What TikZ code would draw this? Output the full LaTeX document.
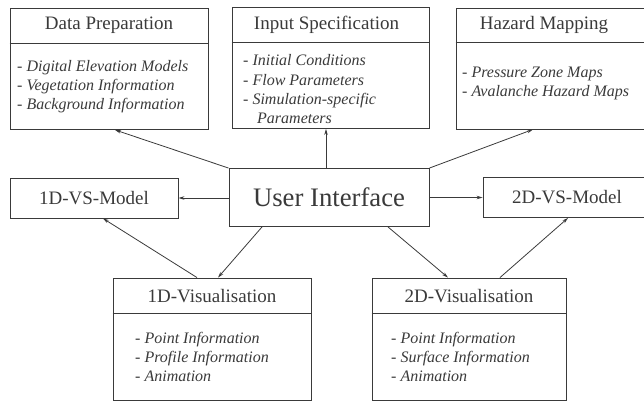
\documentclass[tikz,border=0pt]{standalone}
\usepackage{fontspec}
\setmainfont{Liberation Serif}
\usetikzlibrary{arrows.meta,positioning,calc}
\definecolor{ink}{HTML}{3A3A3A}
\begin{document}
\begin{tikzpicture}[x=1pt,y=-1pt,>={Stealth[length=6pt,width=3.5pt]},
box/.style={draw=ink,line width=0.9pt,inner sep=0pt},
big/.style={box,minimum width=198pt,minimum height=121pt},
vs/.style={box,minimum width=168pt,minimum height=40pt,font=\fontsize{19}{22}\selectfont,text=ink},
ttl/.style={font=\fontsize{19}{22}\selectfont,text=ink},
itm/.style={font=\fontsize{16}{19}\selectfont\itshape,text=ink,align=left,anchor=base west,inner sep=0pt},
con/.style={->,draw=ink,line width=0.8pt}]
\useasboundingbox (0,0) rectangle (644,401);
\node[big] (dp) at (109,69) {};
\node[big,minimum width=197pt] (is) at (330.5,68) {};
\node[big] (hm) at (555,68.5) {};
\node[box,minimum width=200pt,minimum height=58pt,font=\fontsize{26.7}{32}\selectfont,text=ink] (ui) at (329,197.5) {User Interface};
\node[vs] (m1) at (94,198) {1D-VS-Model};
\node[vs] (m2) at (567,197.5) {2D-VS-Model};
\node[big,minimum height=122pt] (v1) at (212,339) {};
\node[big,minimum width=194pt,minimum height=122pt] (v2) at (469,339) {};
\foreach \b in {dp,is,hm}{\draw[ink,line width=0.9pt] ([yshift=-35pt]\b.north west)--([yshift=-35pt]\b.north east);}
\foreach \b in {v1,v2}{\draw[ink,line width=0.9pt] ([yshift=-36pt]\b.north west)--([yshift=-36pt]\b.north east);}
\node[ttl] (dpt) at ([yshift=-17.5pt]dp.north) {Data Preparation};
\node[ttl] (ist) at ([xshift=-4pt,yshift=-17.5pt]is.north) {Input Specification};
\node[ttl] (hmt) at ([xshift=-11pt,yshift=-17.5pt]hm.north) {Hazard Mapping};
\node[ttl] (v1t) at ([yshift=-18pt]v1.north) {1D-Visualisation};
\node[ttl] (v2t) at ([yshift=-18pt]v2.north) {2D-Visualisation};
\node[itm] (dpi) at (17,110) {- Digital Elevation Models\\- Vegetation Information\\- Background Information};
\node[itm] (isi) at (243,123) {- Initial Conditions\\- Flow Parameters\\- Simulation-specific\\\hspace*{14pt}Parameters};
\node[itm] (hmi) at (462,96) {- Pressure Zone Maps\\- Avalanche Hazard Maps};
\node[itm] (v1i) at (135,381) {- Point Information\\- Profile Information\\- Animation};
\node[itm] (v2i) at (391,381) {- Point Information\\- Surface Information\\- Animation};
\draw[con] (ui.north west)--([xshift=6pt]dp.south);
\draw[con] ([xshift=-3pt]ui.north)--([xshift=-3pt]ui.north |- is.south);
\draw[con] (ui.north east)--([xshift=-22pt]hm.south);
\draw[con] (m1.east -| ui.west)--(m1.east);
\draw[con] (m2.west -| ui.east)--(m2.west);
\draw[con] ([xshift=-67pt]ui.south)--([xshift=6pt]v1.north);
\draw[con] ([xshift=-15pt]v1.north)--([xshift=9pt]m1.south);
\draw[con] ([xshift=59pt]ui.south)--([xshift=-21pt]v2.north);
\draw[con] ([xshift=31pt]v2.north)--([xshift=1pt]m2.south);
\end{tikzpicture}
\end{document}
